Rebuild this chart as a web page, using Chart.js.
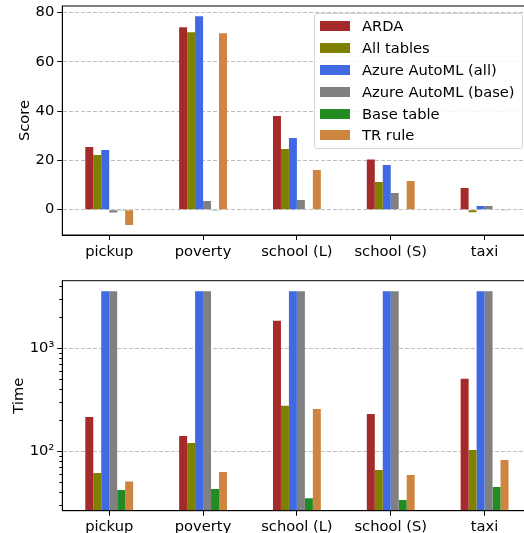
<!DOCTYPE html>
<html>
<head>
<meta charset="utf-8">
<script src="https://cdn.jsdelivr.net/npm/chart.js@4/dist/chart.umd.min.js"></script>
<style>
  html, body { margin: 0; padding: 0; overflow: hidden; background: #fff; width: 524px; height: 533px; }
  #wrap { position: relative; width: 524px; height: 533px; overflow: hidden; }
  .box { position: absolute; left: 0; width: 540px; }
  #top-box { top: 0; height: 262px; }
  #bottom-box { top: 262px; height: 271px; }
  #legend {
    position: absolute; left: 314px; top: 13px; width: 207px; height: 134px;
    background: rgba(255, 255, 255, 0.85); border: 1px solid #d6d6d6; border-radius: 3px;
    font-family: "DejaVu Sans", sans-serif; font-size: 14.7px; color: #000;
  }
  .leg-row { position: absolute; left: 0; height: 22px; line-height: 22px; white-space: nowrap; }
  .leg-dot { position: absolute; left: 5px; top: 6px; width: 30px; height: 10px; }
  .leg-text { position: absolute; left: 47px; top: 0; }
</style>
</head>
<body>
<div id="wrap">
  <div class="box" id="top-box"><canvas id="score-chart"></canvas></div>
  <div class="box" id="bottom-box"><canvas id="time-chart"></canvas></div>
  <div id="legend"></div>
</div>

<script>
// data
const categories = ['pickup', 'poverty', 'school (L)', 'school (S)', 'taxi'];
const methods = ['ARDA', 'All tables', 'Azure AutoML (all)', 'Azure AutoML (base)', 'Base table', 'TR rule'];
const colors = ['#a52a2a', '#808000', '#4169e1', '#808080', '#228b22', '#cd853f'];

const scoreArda = [25.4, 74.1, 38.0, 20.4, 8.8];
const scoreAllTables = [22.2, 72.0, 24.6, 11.2, -1.1];
const scoreAzureAll = [24.2, 78.5, 29.1, 18.1, 1.5];
const scoreAzureBase = [-1.2, 3.5, 3.9, 6.8, 1.5];
const scoreBaseTable = [-0.3, -0.3, -0.2, -0.2, -0.2];
const scoreTrRule = [-6.2, 71.6, 16.1, 11.6, -0.3];

const timeArda = [216, 141, 1857, 231, 507];
const timeAllTables = [61.5, 120.5, 277, 65.8, 103];
const timeAzureAll = [3600, 3600, 3600, 3600, 3600];
const timeAzureBase = [3600, 3600, 3600, 3600, 3600];
const timeBaseTable = [42, 43, 35, 33.6, 45];
const timeTrRule = [51, 63, 258, 58.8, 82.4];

const scoreTicks = [0, 20, 40, 60, 80];
const timeTicks = [30, 40, 50, 60, 70, 80, 90, 100, 200, 300, 400, 500, 600, 700, 800, 900, 1000, 2000, 3000, 4000];
const timeMajor = [100, 1000];
const timeLabels = { 100: '10²', 1000: '10³' };

const scoreSeries = [scoreArda, scoreAllTables, scoreAzureAll, scoreAzureBase, scoreBaseTable, scoreTrRule];
const timeSeries = [timeArda, timeAllTables, timeAzureAll, timeAzureBase, timeBaseTable, timeTrRule];

Chart.defaults.font.family = '"DejaVu Sans", sans-serif';
Chart.defaults.font.size = 14.7;
Chart.defaults.color = '#000';

const gridGray = 'rgba(170, 170, 170, 0.75)';

// matplotlib-style box round the plot area (right side falls outside the picture)
const framePlugin = {
  id: 'frame',
  afterDraw(chart) {
    const { ctx, chartArea: a } = chart;
    ctx.save();
    ctx.strokeStyle = '#000';
    ctx.lineWidth = 1;
    ctx.strokeRect(a.left, a.top, a.right - a.left, a.bottom - a.top);
    ctx.restore();
  }
};

// keep label overhang from pushing the plot area around
function noPad(scale) {
  scale.paddingTop = 0;
  scale.paddingBottom = 0;
  scale.paddingLeft = 0;
  scale.paddingRight = 0;
}

function makeDatasets(series) {
  return series.map((data, i) => ({
    label: methods[i],
    data: data,
    backgroundColor: colors[i],
    borderWidth: 0,
    categoryPercentage: 0.51,
    barPercentage: 1.0
  }));
}

function xAxis(height) {
  return {
    z: 1,
    offset: true,
    grid: { offset: false, drawOnChartArea: false, tickLength: 5, tickColor: '#000' },
    border: { color: '#000' },
    ticks: { padding: 3, maxRotation: 0 },
    afterFit: (scale) => { scale.height = height; noPad(scale); }
  };
}

new Chart(document.getElementById('score-chart'), {
  type: 'bar',
  data: { labels: categories, datasets: makeDatasets(scoreSeries) },
  options: {
    responsive: true,
    maintainAspectRatio: false,
    animation: false,
    layout: { padding: { left: 0, top: 6, right: 8.5, bottom: 0 } },
    plugins: { legend: { display: false }, tooltip: { enabled: false } },
    scales: {
      x: xAxis(27),
      y: {
        z: 1,
        min: -10.3,
        max: 82.7,
        afterBuildTicks: (scale) => { scale.ticks = scoreTicks.map(v => ({ value: v })); },
        grid: { color: gridGray, lineWidth: 1, tickLength: 5, tickColor: '#000', tickBorderDash: [] },
        border: { color: '#000', dash: [4, 2] },
        ticks: { padding: 3 },
        title: { display: true, text: 'Score', padding: { top: 16.5, bottom: 0 } },
        afterFit: (scale) => { scale.width = 62.3; noPad(scale); }
      }
    }
  },
  plugins: [framePlugin]
});

new Chart(document.getElementById('time-chart'), {
  type: 'bar',
  data: { labels: categories, datasets: makeDatasets(timeSeries) },
  options: {
    responsive: true,
    maintainAspectRatio: false,
    animation: false,
    layout: { padding: { left: 0, top: 18.7, right: 8.5, bottom: 0 } },
    plugins: { legend: { display: false }, tooltip: { enabled: false } },
    scales: {
      x: xAxis(22.3),
      y: {
        type: 'logarithmic',
        z: 1,
        min: 26.5,
        max: 4560,
        afterBuildTicks: (scale) => { scale.ticks = timeTicks.map(v => ({ value: v, major: timeMajor.includes(v) })); },
        grid: {
          color: (c) => timeMajor.includes(c.tick && c.tick.value) ? gridGray : 'rgba(0,0,0,0)',
          lineWidth: 1,
          tickLength: 5,
          tickColor: '#000',
          tickBorderDash: (c) => timeMajor.includes(c.tick && c.tick.value) ? [] : [3, 2],
          tickBorderDashOffset: (c) => timeMajor.includes(c.tick && c.tick.value) ? 0 : 3
        },
        border: { color: '#000', dash: [4, 2] },
        ticks: {
          padding: 3,
          autoSkip: false,
          callback: (value) => timeLabels[value] || ''
        },
        title: { display: true, text: 'Time', padding: { top: 10, bottom: 0 } },
        afterFit: (scale) => { scale.width = 62.3; noPad(scale); }
      }
    }
  },
  plugins: [framePlugin]
});

// legend drawn inside the upper plot, as matplotlib places it
const legend = document.getElementById('legend');
methods.forEach((name, i) => {
  const row = document.createElement('div');
  row.className = 'leg-row';
  row.style.top = (1.3 + i * 21.8) + 'px';
  row.innerHTML = `<span class="leg-dot" style="background:${colors[i]}"></span><span class="leg-text">${name}</span>`;
  legend.appendChild(row);
});
</script>
</body>
</html>
